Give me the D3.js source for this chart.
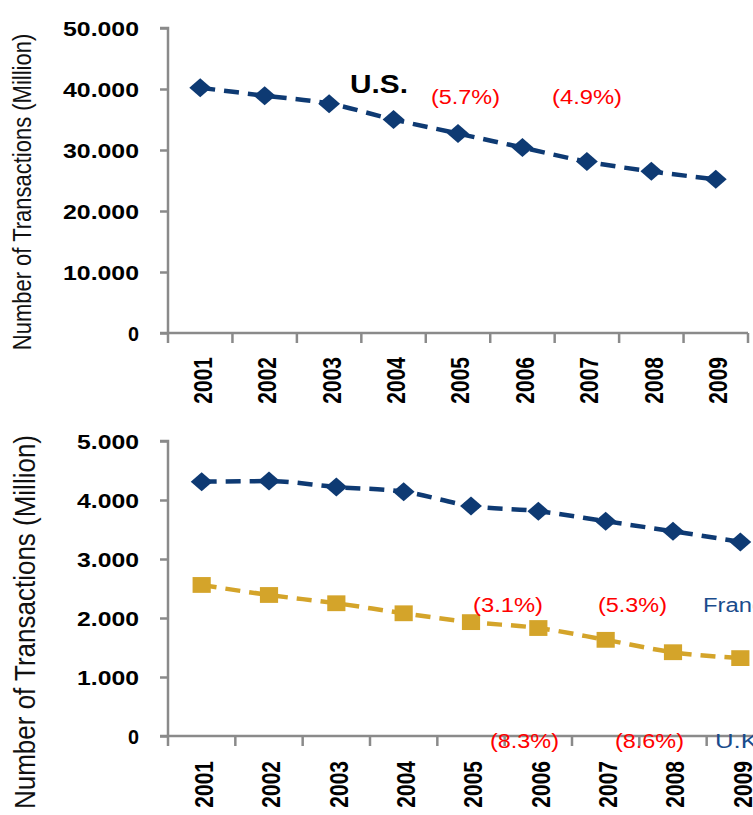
<!DOCTYPE html>
<html><head><meta charset="utf-8">
<script src="https://cdn.jsdelivr.net/npm/d3@7"></script>
<style>body{margin:0;background:#fff}svg{display:block}text{font-family:"Liberation Sans",Arial,sans-serif}</style>
</head><body>
<svg id="c" width="753" height="815"></svg>
<script>
const years = ["2001","2002","2003","2004","2005","2006","2007","2008","2009"];
const usValues = [40200, 38900, 37600, 35000, 32700, 30400, 28100, 26500, 25200];
const franceValues = [4310, 4320, 4220, 4140, 3900, 3810, 3640, 3470, 3290];
const ukValues = [2560, 2390, 2250, 2080, 1930, 1830, 1630, 1420, 1320];
const topTicks = [0, 10000, 20000, 30000, 40000, 50000];
const bottomTicks = [0, 1000, 2000, 3000, 4000, 5000];
const topNotes = [{t:"U.S.", x:350, y:93, c:"#000", w:58, bold:true, fs:25},
                  {t:"(5.7%)", x:431, y:104, c:"#ff0000", w:69, fs:20},
                  {t:"(4.9%)", x:552, y:104, c:"#ff0000", w:70, fs:20}];
const bottomNotes = [{t:"(3.1%)", x:473, y:612, c:"#ff0000", w:70, fs:20},
                     {t:"(5.3%)", x:598, y:612, c:"#ff0000", w:69, fs:20},
                     {t:"France", x:703, y:612, c:"#1a4c8c", w:74, fs:20},
                     {t:"(8.3%)", x:490, y:748, c:"#ff0000", w:69, fs:20},
                     {t:"(8.6%)", x:615, y:748, c:"#ff0000", w:69, fs:20},
                     {t:"U.K.", x:715, y:748, c:"#1a4c8c", w:50, fs:20}];

const navy = "#0e3a73", gold = "#d4a42a", axisCol = "#8a8a8a";
const svg = d3.select("#c");
const fmt = v => v === 0 ? "0" : d3.format(",")(v).replace(/,/g, ".");

function panel(opt){
  const g = svg.append("g");
  const x = d3.scaleBand().domain(years).range(opt.xr).padding(0);
  const y = d3.scaleLinear().domain([0, opt.max]).range(opt.yr);
  const ya = d3.axisLeft(y).tickValues(opt.ticks).tickSize(8).tickFormat(fmt);
  const yg = g.append("g").attr("transform", `translate(${opt.xr[0]},0)`).call(ya);
  yg.select(".domain").attr("stroke", axisCol).attr("stroke-width", 2.5).attr("d", `M-8,${opt.yr[1]}H0V${opt.yr[0]}`);
  yg.selectAll(".tick line").attr("stroke", axisCol).attr("stroke-width", 2.5);
  yg.selectAll(".tick text").attr("x", -29).attr("dy", "0.36em")
    .attr("font-size", 21).attr("font-weight", "bold").attr("fill", "#000")
    .style("font-family", "'Liberation Sans',Arial,sans-serif")
    .each(function(d){ const w = d === 0 ? 11 : (String(d).length===5 ? 76 : opt.w4); d3.select(this).attr("textLength", w).attr("lengthAdjust","spacingAndGlyphs"); });
  const xg = g.append("g").attr("transform", `translate(0,${opt.yr[0]})`);
  xg.append("line").attr("x1", opt.xr[0]-8).attr("x2", opt.xr[1]).attr("stroke", axisCol).attr("stroke-width", 2.5);
  const edges = years.map(d => x(d)).concat([opt.xr[1]]);
  xg.selectAll("line.tk").data(edges).join("line").attr("class","tk")
    .attr("x1", d=>d).attr("x2", d=>d).attr("y1", 0).attr("y2", 10).attr("stroke", axisCol).attr("stroke-width", 2.5);
  xg.selectAll("text").data(years).join("text")
    .attr("transform", d => `translate(${x(d)+x.bandwidth()/2+2},${opt.lblTop - opt.yr[0]}) rotate(-90) scale(1,1.25)`)
    .attr("text-anchor","end").attr("dy","0.36em").attr("font-size", 21).attr("font-weight","bold").text(d=>d);
  g.append("text").attr("transform", `translate(${opt.titleX},${opt.titleY}) rotate(-90) scale(1,1.15)`)
    .attr("text-anchor","middle").attr("font-size", opt.titleFs).attr("fill","#111").text("Number of Transactions (Million)");
  return {g, x, y};
}

function series(p, vals, color, shape, size){
  const cx = (d,i) => p.x(years[i]) + p.x.bandwidth()/2;
  const line = d3.line().x(cx).y(d => p.y(d)).curve(d3.curveMonotoneX);
  p.g.append("path").datum(vals).attr("d", line).attr("fill","none").attr("stroke", color)
    .attr("stroke-width", 4.5).attr("stroke-dasharray", "15 9");
  const sym = d3.symbol().type(shape).size(size);
  p.g.selectAll(null).data(vals).join("path").attr("d", sym)
    .attr("transform", (d,i) => `translate(${cx(d,i)},${p.y(d)}) scale(1.15,1)`).attr("fill", color);
}

function notes(arr){
  svg.selectAll(null).data(arr).join("text").attr("x", d=>d.x).attr("y", d=>d.y)
    .attr("font-size", d=>d.fs).attr("font-weight", d=>d.bold?"bold":"normal").attr("fill", d=>d.c)
    .attr("textLength", d=>d.w).attr("lengthAdjust","spacingAndGlyphs").text(d=>d.t);
}

const usPanel = panel({xr:[168,748], yr:[333,28], max:50000, ticks:topTicks, w4:76, lblTop:357, titleX:31, titleY:192, titleFs:22});
series(usPanel, usValues, navy, d3.symbolDiamond2, 230);
notes(topNotes);

const euPanel = panel({xr:[168,774], yr:[736,441], max:5000, ticks:bottomTicks, w4:62, lblTop:761, titleX:35, titleY:622, titleFs:26});
series(euPanel, franceValues, navy, d3.symbolDiamond2, 230);
series(euPanel, ukValues, gold, d3.symbolSquare, 250);
notes(bottomNotes);
</script>
</body></html>
